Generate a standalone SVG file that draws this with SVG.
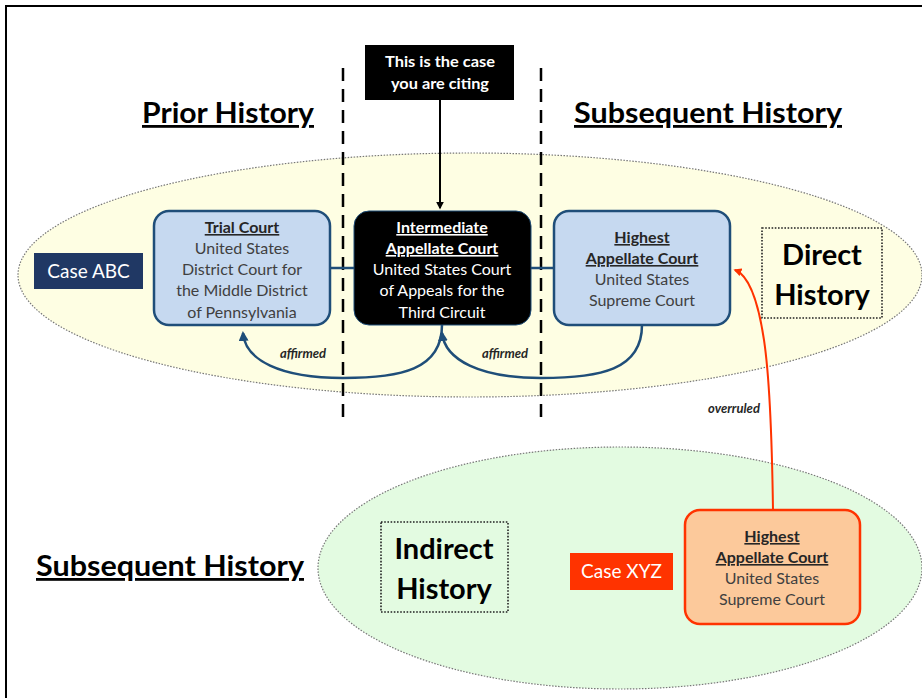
<svg xmlns="http://www.w3.org/2000/svg" width="922" height="698" viewBox="0 0 922 698">
<defs>
<style>
text{font-family:Lato,"Open Sans","Liberation Sans",sans-serif;text-anchor:middle}
.h{font-weight:bold;font-size:28px;fill:#000;text-decoration:underline}
.big{font-weight:bold;font-size:29px;fill:#000}
.bt{font-size:16px;fill:#404040}
.bth{font-size:16px;font-weight:bold;text-decoration:underline;fill:#262626}
.wt{font-size:16px;fill:#fff}
.wth{font-size:16px;font-weight:bold;text-decoration:underline;fill:#fff}
.lbl{font-size:13px;font-style:italic;font-weight:bold;fill:#262626}
.blue{fill:#c6d9f0;stroke:#1f4e79;stroke-width:2.5}
.dot{fill:none;stroke:#222;stroke-width:1.6;stroke-dasharray:1.6 1.6}
.dash{stroke:#000;stroke-width:2.5;stroke-dasharray:13 8;fill:none}
.arc{fill:none;stroke:#1f4e79;stroke-width:2.5}
</style>
<marker id="ab" viewBox="0 0 10 10" refX="8" refY="5" markerWidth="4" markerHeight="4" orient="auto"><path d="M0,0 L10,5 L0,10 z" fill="#1f4e79"/></marker>
<marker id="ak" viewBox="0 0 10 10" refX="8" refY="5" markerWidth="4" markerHeight="4" orient="auto"><path d="M0,0 L10,5 L0,10 z" fill="#000"/></marker>
<marker id="ar" viewBox="0 0 10 10" refX="8" refY="5" markerWidth="4" markerHeight="4" orient="auto"><path d="M0,0 L10,5 L0,10 z" fill="#ff3300"/></marker>
</defs>
<rect width="922" height="698" fill="#fff"/>
<path d="M6,698 V6 H922" fill="none" stroke="#000" stroke-width="2"/>

<g id="ellipses">
<ellipse cx="470" cy="275" rx="452" ry="122" fill="#fefee3" stroke="#777" stroke-width="1.2" stroke-dasharray="1.5 1.5"/>
<ellipse cx="620" cy="568" rx="302" ry="121" fill="#e3fbe1" stroke="#777" stroke-width="1.2" stroke-dasharray="1.5 1.5"/>
</g>

<g id="dividers">
<line class="dash" x1="343" y1="68" x2="343" y2="425"/>
<line class="dash" x1="541" y1="68" x2="541" y2="425"/>
</g>

<g id="titles">
<text class="h" x="228" y="123" textLength="172" lengthAdjust="spacingAndGlyphs">Prior History</text>
<text class="h" x="708" y="123" textLength="268" lengthAdjust="spacingAndGlyphs">Subsequent History</text>
<text class="h" x="170" y="576" textLength="268" lengthAdjust="spacingAndGlyphs">Subsequent History</text>
</g>

<g id="connectors">
<line x1="330" y1="268" x2="354" y2="268" stroke="#1f4e79" stroke-width="2.5"/>
<line x1="531" y1="268" x2="554" y2="268" stroke="#1f4e79" stroke-width="2.5"/>
<path class="arc" d="M442,325 C442,370 400,378 343,378 C280,378 245,360 243,333" marker-end="url(#ab)"/>
<path class="arc" d="M642,325 C642,370 600,378 541,378 C480,378 445,360 442,333" marker-end="url(#ab)"/>
<line x1="440" y1="100" x2="440" y2="208" stroke="#000" stroke-width="2" marker-end="url(#ak)"/>
<path d="M773,510 C772,440 770,380 764,340 C758,300 748,275 735,270" fill="none" stroke="#ff3300" stroke-width="2" marker-end="url(#ar)"/>
<text class="lbl" x="303" y="358">affirmed</text>
<text class="lbl" x="505" y="358">affirmed</text>
<text class="lbl" x="734" y="413">overruled</text>
</g>

<g id="citing">
<rect x="365" y="45" width="149" height="55" fill="#000"/>
<text x="440" y="67" style="font-size:15px;font-weight:bold;fill:#fff" textLength="110" lengthAdjust="spacingAndGlyphs">This is the case</text>
<text x="440" y="89" style="font-size:15px;font-weight:bold;fill:#fff" textLength="98" lengthAdjust="spacingAndGlyphs">you are citing</text>
</g>

<g id="caseABC">
<rect x="34" y="253" width="109" height="36" fill="#203864"/>
<text x="88.5" y="278" style="font-size:19px;fill:#fff">Case ABC</text>
</g>

<g id="trial">
<rect class="blue" x="154" y="211" width="176" height="114" rx="15"/>
<text class="bth" x="242" y="233">Trial Court</text>
<text class="bt" x="242" y="254">United States</text>
<text class="bt" x="242" y="275">District Court for</text>
<text class="bt" x="242" y="296">the Middle District</text>
<text class="bt" x="242" y="318">of Pennsylvania</text>
</g>

<g id="intermediate">
<rect x="354" y="211" width="177" height="114" rx="15" fill="#000" stroke="#1f4e79" stroke-width="1"/>
<text class="wth" x="442" y="233">Intermediate</text>
<text class="wth" x="442" y="254">Appellate Court</text>
<text class="wt" x="442" y="275">United States Court</text>
<text class="wt" x="442" y="296">of Appeals for the</text>
<text class="wt" x="442" y="318">Third Circuit</text>
</g>

<g id="highest">
<rect class="blue" x="554" y="211" width="176" height="114" rx="15"/>
<text class="bth" x="642" y="243">Highest</text>
<text class="bth" x="642" y="264">Appellate Court</text>
<text class="bt" x="642" y="285">United States</text>
<text class="bt" x="642" y="306">Supreme Court</text>
</g>

<g id="direct">
<rect class="dot" x="762" y="228" width="120" height="90"/>
<text class="big" x="822" y="265">Direct</text>
<text class="big" x="822" y="305">History</text>
</g>

<g id="indirect">
<rect class="dot" x="381" y="522" width="127" height="90"/>
<text class="big" x="444" y="559">Indirect</text>
<text class="big" x="444" y="599">History</text>
</g>

<g id="caseXYZ">
<rect x="570" y="553" width="103" height="37" fill="#ff3300"/>
<text x="621.5" y="578" style="font-size:19px;fill:#fff">Case XYZ</text>
</g>

<g id="highest2">
<rect x="685" y="510" width="175" height="114" rx="15" fill="#fcc99b" stroke="#ff3300" stroke-width="2.5"/>
<text class="bth" x="772" y="542">Highest</text>
<text class="bth" x="772" y="563">Appellate Court</text>
<text class="bt" x="772" y="584">United States</text>
<text class="bt" x="772" y="605">Supreme Court</text>
</g>
</svg>
